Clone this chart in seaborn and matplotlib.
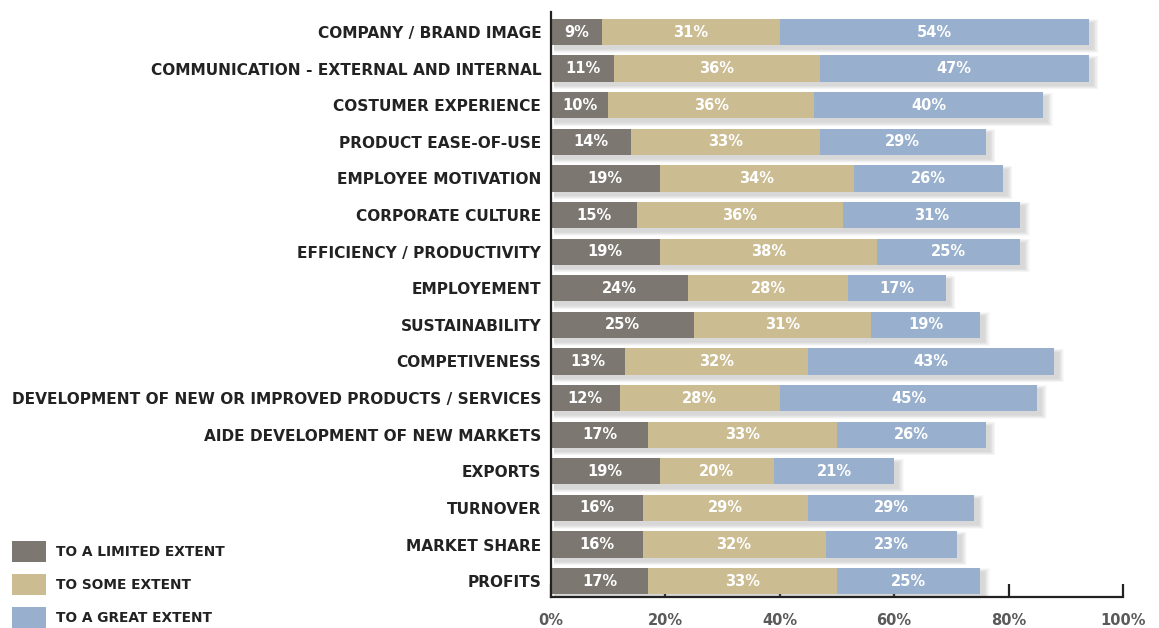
import numpy as np
import pandas as pd
import matplotlib
matplotlib.use("Agg")
import matplotlib.pyplot as plt
from matplotlib.patches import Patch
import seaborn as sns

categories = [
    "COMPANY / BRAND IMAGE",
    "COMMUNICATION - EXTERNAL AND INTERNAL",
    "COSTUMER EXPERIENCE",
    "PRODUCT EASE-OF-USE",
    "EMPLOYEE MOTIVATION",
    "CORPORATE CULTURE",
    "EFFICIENCY / PRODUCTIVITY",
    "EMPLOYEMENT",
    "SUSTAINABILITY",
    "COMPETIVENESS",
    "DEVELOPMENT OF NEW OR IMPROVED PRODUCTS / SERVICES",
    "AIDE DEVELOPMENT OF NEW MARKETS",
    "EXPORTS",
    "TURNOVER",
    "MARKET SHARE",
    "PROFITS",
]
limited = [9, 11, 10, 14, 19, 15, 19, 24, 25, 13, 12, 17, 19, 16, 16, 17]
some = [31, 36, 36, 33, 34, 36, 38, 28, 31, 32, 28, 33, 20, 29, 32, 33]
great = [54, 47, 40, 29, 26, 31, 25, 17, 19, 43, 45, 26, 21, 29, 23, 25]
series_names = ["TO A LIMITED EXTENT", "TO SOME EXTENT", "TO A GREAT EXTENT"]
xticks = [0, 20, 40, 60, 80, 100]

colors = ["#7c7770", "#cbbc92", "#98b0cd"]

sns.set_theme(style="white")
plt.rcParams["font.family"] = ["DejaVu Sans"]

df = pd.DataFrame({"category": categories, "limited": limited,
                   "some": some, "great": great})
df["c1"] = df["limited"]
df["c2"] = df["limited"] + df["some"]
df["c3"] = df["c2"] + df["great"]

fig = plt.figure(figsize=(11.59, 6.28), dpi=100)
ax = fig.add_axes([0.4754, 0.049, 0.4935, 0.932])

bar_h = 0.72
ypos = np.arange(len(categories))

# soft drop shadow behind each full bar
for k in range(8):
    grow = 0.014 * k
    ax.barh(ypos + 0.11, df["c3"] + 0.3 + grow * 9, height=bar_h + grow * 2,
            left=0.5, color="#7a7a7a", alpha=0.04, linewidth=0, zorder=1)

# stacked segments drawn as overlapping cumulative bars
for col, color in zip(["c3", "c2", "c1"], colors[::-1]):
    sns.barplot(data=df, y="category", x=col, orient="h", color=color,
                width=bar_h, saturation=1, ax=ax, zorder=3, linewidth=0)

# value labels centred in each segment
for i in range(len(categories)):
    starts = [0, df["c1"][i], df["c2"][i]]
    vals = [limited[i], some[i], great[i]]
    for s, v in zip(starts, vals):
        ax.text(s + v / 2, i, f"{v}%", ha="center", va="center",
                color="white", fontsize=10.5, fontweight="bold", zorder=5)

ax.set_xlim(0, 100)
ax.set_ylim(15.44, -0.55)
ax.set_xticks(xticks)
ax.set_xticklabels([f"{t}%" for t in xticks], color="#5a5a5a",
                   fontsize=10.5, fontweight="bold")
ax.set_xlabel("")
ax.set_ylabel("")
ax.tick_params(axis="x", direction="in", length=9.5, width=1.6, color="#222222",
               pad=11, bottom=True)
ax.tick_params(axis="y", length=0, pad=7)
for lab in ax.get_yticklabels():
    lab.set_fontsize(11.05)
    lab.set_fontweight("bold")
    lab.set_color("#222222")

for side in ["top", "right"]:
    ax.spines[side].set_visible(False)
for side in ["left", "bottom"]:
    ax.spines[side].set_visible(True)
    ax.spines[side].set_color("#222222")
    ax.spines[side].set_linewidth(1.6)
    ax.spines[side].set_zorder(6)
ax.grid(False)

handles = [Patch(facecolor=c, edgecolor="none") for c in colors]
fig.legend(handles, series_names, loc="upper left",
           bbox_to_anchor=(12 / 1159, 1 - 541 / 628), frameon=False,
           prop={"size": 9.9, "weight": "bold"},
           handlelength=2.47, handleheight=1.95, labelspacing=0.9,
           handletextpad=0.75, borderpad=0.0, borderaxespad=0.0)
for t in fig.legends[0].get_texts():
    t.set_color("#222222")

fig.savefig("out.png", dpi=100)
